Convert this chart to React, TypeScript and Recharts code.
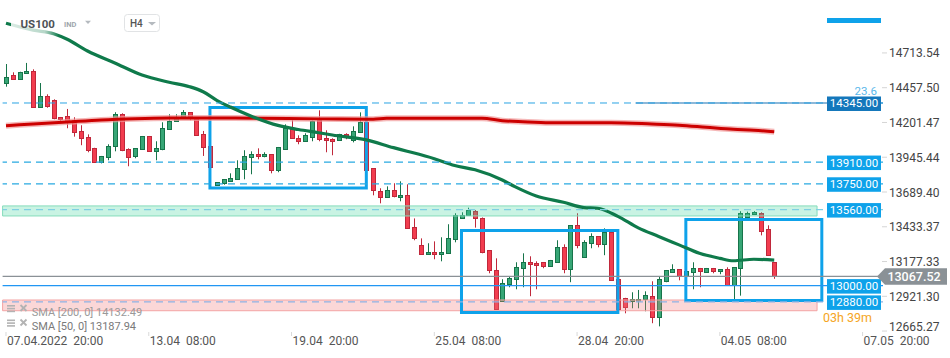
import React from 'react';
import { ComposedChart, Bar, Line, XAxis, YAxis, ReferenceLine, ReferenceArea } from 'recharts';

// H4 candles, left to right
const opens = [
  14490, 14549, 14519, 14564, 14578, 14318, 14394, 14365, 14240, 14247,
  14218, 14137, 14092, 14011, 13908, 13945, 14026, 14262, 14004, 13953,
  14004, 14100, 13989, 14004, 14151, 14212, 14242, 14276, 14234, 14114,
  14030, 13744, 13753, 13773, 13783, 13857, 13945, 13967, 13953, 13967,
  13849, 14004, 14153, 14085, 14063, 14092, 14218, 14085, 14078, 14070,
  14114, 14070, 14129, 14203, 13864, 13695, 13650, 13702, 13650, 13665,
  13429, 13297, 13231, 13246, 13231, 13238, 13341, 13495, 13522, 13552,
  13500, 13260, 13113, 12889, 13010, 13047, 13128, 13172, 13165, 13172,
  13143, 13172, 13282, 13120, 13444, 13209, 13312, 13363, 13304, 13393,
  13047, 12906, 12884, 12892, 12899, 12921, 12767, 13032, 13098, 13120,
  13069, 13098, 13128, 13098, 13128, 13106, 13120, 13003, 13128, 13508,
  13525, 13533, 13415, 13172,
];
const highs = [
  14632, 14571, 14575, 14640, 14593, 14492, 14409, 14372, 14242, 14301,
  14240, 14181, 14114, 14015, 13955, 14041, 14277, 14269, 14011, 14011,
  14102, 14102, 14063, 14203, 14262, 14262, 14293, 14278, 14236, 14139,
  14032, 13763, 13785, 13827, 13923, 13997, 13989, 14011, 13982, 13969,
  14021, 14188, 14232, 14107, 14122, 14215, 14291, 14144, 14085, 14118,
  14122, 14173, 14276, 14210, 13866, 13717, 13731, 13754, 13768, 13746,
  13495, 13348, 13312, 13326, 13356, 13452, 13533, 13540, 13574, 13557,
  13502, 13262, 13201, 13047, 13069, 13172, 13238, 13216, 13179, 13174,
  13189, 13334, 13304, 13446, 13533, 13334, 13385, 13365, 13422, 13400,
  13049, 12910, 12951, 12968, 12958, 13032, 13069, 13115, 13157, 13122,
  13108, 13172, 13130, 13130, 13130, 13122, 13135, 13137, 13548, 13545,
  13548, 13540, 13444, 13174,
];
const lows = [
  14465, 14515, 14515, 14560, 14310, 14310, 14310, 14225, 14207, 14159,
  14097, 14034, 13982, 13906, 13900, 13923, 13989, 13990, 13879, 13938,
  14002, 13987, 13923, 13997, 14149, 14210, 14240, 14218, 14105, 13955,
  13874, 13740, 13743, 13770, 13781, 13783, 13820, 13930, 13945, 13827,
  13835, 14002, 14083, 14041, 14061, 14063, 14063, 13982, 13960, 14066,
  14078, 14055, 14127, 13845, 13665, 13606, 13648, 13650, 13621, 13420,
  13334, 13229, 13229, 13194, 13179, 13236, 13319, 13493, 13520, 13427,
  13238, 13091, 12824, 12885, 12988, 12973, 12988, 12922, 12973, 13128,
  13141, 13170, 13091, 13025, 13275, 13207, 13275, 13282, 13224, 13037,
  12812, 12796, 12833, 12833, 12811, 12723, 12700, 13025, 13096, 13039,
  13067, 12973, 12988, 13096, 13091, 13084, 13001, 12899, 12926, 13505,
  13520, 13370, 13221, 13050,
];
const closes = [
  14534, 14519, 14571, 14578, 14318, 14394, 14325, 14232, 14225, 14207,
  14129, 14085, 13997, 13908, 13953, 14026, 14262, 13997, 13945, 14011,
  14100, 13989, 14011, 14161, 14212, 14242, 14276, 14242, 14107, 14019,
  13876, 13761, 13783, 13790, 13864, 13953, 13967, 13953, 13967, 13849,
  14019, 14161, 14085, 14063, 14107, 14210, 14078, 14070, 14063, 14114,
  14100, 14137, 14203, 13852, 13702, 13650, 13702, 13658, 13665, 13422,
  13348, 13231, 13246, 13231, 13246, 13348, 13518, 13518, 13557, 13500,
  13245, 13113, 12826, 13017, 13054, 13135, 13172, 13157, 13150, 13143,
  13187, 13282, 13120, 13444, 13297, 13319, 13363, 13304, 13393, 13039,
  12826, 12845, 12899, 12899, 12929, 12767, 13047, 13113, 13120, 13069,
  13106, 13128, 13106, 13128, 13106, 13120, 13003, 13135, 13533, 13533,
  13540, 13405, 13223, 13067.52,
];

// moving averages, read at some candles [index, value]
const sma50Points: Array<[number, number]> = [
  [0, 14932], [4, 14882], [7, 14855], [9, 14814], [12, 14728], [16, 14640],
  [20, 14551], [24, 14498], [27, 14465], [29, 14428], [31, 14365], [33, 14315],
  [36, 14250], [40, 14180], [43, 14150], [46, 14126], [48, 14109], [53, 14073],
  [57, 14016], [59, 13990], [63, 13935], [66, 13885], [69, 13853], [73, 13778],
  [75, 13725], [78, 13660], [82, 13614], [85, 13575], [87, 13570], [90, 13510],
  [93, 13425], [96, 13362], [99, 13300], [102, 13238], [105, 13201], [107, 13183],
  [110, 13194], [113, 13188],
];
const sma200Points: Array<[number, number]> = [
  [0, 14178], [4, 14190], [9, 14205], [14, 14220], [19, 14229], [24, 14234],
  [29, 14235], [37, 14232], [46, 14228], [54, 14225], [56, 14232], [70, 14232],
  [73, 14215], [76, 14207], [80, 14200], [89, 14200], [95, 14190], [99, 14181],
  [103, 14166], [107, 14151], [110, 14144], [113, 14132.5],
];

const timeTicks = [0, 21, 42, 63, 84, 105, 126];
const timeLabels: Array<[string, string]> = [
  ['07.04.2022', '20:00'], ['13.04', '08:00'], ['19.04', '20:00'], ['25.04', '08:00'],
  ['28.04', '20:00'], ['04.05', '08:00'], ['07.05', '20:00'],
];
const priceTicks = [14713.54, 14457.5, 14201.47, 13945.44, 13689.4, 13433.37, 13177.33, 12921.3, 12665.27];

const fibLevel = 14345;
const levels = [13910, 13750, 13560, 13000];
const bottomLevel = 12880;
const lastPrice = 13067.52;
const greenBand = [13513, 13587];
const redBand = [12815, 12894];
const bandEnd = 119.3;
const fibStart = 92.6;
const boxes = [
  { from: 30, to: 53, top: 14312, bottom: 13719 },
  { from: 67, to: 90, top: 13406, bottom: 12802 },
  { from: 100, to: 120, top: 13487, bottom: 12891 },
];

const GREEN = '#37a676';
const GREEN_DARK = '#17744a';
const RED = '#f23d4f';
const RED_DARK = '#c0283b';
const BLUE = '#0ea2ea';

const s50 = new Map(sma50Points);
const s200 = new Map(sma200Points);
const data = opens.map((o, i) => ({
  i,
  open: o,
  high: highs[i],
  low: lows[i],
  close: closes[i],
  range: [lows[i], highs[i]],
  sma50: s50.has(i) ? s50.get(i) : null,
  sma200: s200.has(i) ? s200.get(i) : null,
}));

const Candle = (props: any) => {
  const { x, y, width, height, payload } = props;
  if (!payload || x == null || y == null) return null;
  const top = Math.min(y, y + height);
  const h = Math.abs(height);
  const { open, close, high, low } = payload;
  const k = h / (high - low);
  const py = (v: number) => top + (high - v) * k;
  const up = close >= open;
  const cx = Math.round(x + width / 2) + 0.5;
  const b1 = Math.round(py(Math.max(open, close))) + 0.5;
  const b2 = Math.max(Math.round(py(Math.min(open, close))) + 0.5, b1 + 1.5);
  const stroke = up ? GREEN_DARK : RED_DARK;
  return (
    <g>
      <line x1={cx} x2={cx} y1={top} y2={top + h} stroke={stroke} strokeWidth={1} />
      <rect x={cx - 2} y={b1} width={4} height={b2 - b1} fill={up ? GREEN : RED} stroke={stroke} strokeWidth={1} />
    </g>
  );
};

const TimeTick = (props: any) => {
  const { x, payload } = props;
  const idx = timeTicks.indexOf(payload.value);
  const [d, t] = timeLabels[idx] || ['', ''];
  return (
    <g>
      <line x1={x} x2={x} y1={332} y2={336} stroke="#d9d9d9" />
      <text x={x + 1} y={344.5} fontSize={12} fill="#555">
        <tspan>{d}</tspan>
        <tspan dx={6}>{t}</tspan>
      </text>
    </g>
  );
};

const PriceTick = (props: any) => {
  const { x, y, payload } = props;
  const ty = Math.min(y, 326.5);
  return (
    <g>
      <line x1={x - 9} x2={x - 4} y1={y} y2={y} stroke="#d5d5d5" />
      <text x={x - 2} y={ty + 4.5} fontSize={12} fill="#444">{Number(payload.value).toFixed(2)}</text>
    </g>
  );
};

const LevelTag = (props: any) => {
  const { viewBox, value, color } = props;
  if (!viewBox) return null;
  const right = viewBox.x + viewBox.width;
  const y = viewBox.y;
  return (
    <g>
      <rect x={right - 56} y={y - 6.5} width={54} height={14.5} fill={color} />
      <text x={right - 29} y={y + 4.5} textAnchor="middle" fontSize={11.5} fill="#fff">{value.toFixed(2)}</text>
    </g>
  );
};

const LastTag = (props: any) => {
  const { viewBox } = props;
  if (!viewBox) return null;
  const right = viewBox.x + viewBox.width;
  const y = viewBox.y;
  return (
    <g>
      <text x={right - 60} y={y + 46} fontSize={12.5} fill="#f5a524">03h 39m</text>
      <polygon
        points={`${right - 6},${y} ${right + 2},${y - 8.3} ${right + 64},${y - 8.3} ${right + 64},${y + 8.3} ${right + 2},${y + 8.3}`}
        fill="#8a9196"
      />
      <text x={right + 31} y={y + 4.5} textAnchor="middle" fontSize={12.5} fontWeight={500} fill="#fff">
        {lastPrice.toFixed(2)}
      </text>
    </g>
  );
};

function Overlay() {
  return (
    <svg width={950} height={358} style={{ position: 'absolute', left: 0, top: 0, pointerEvents: 'none' }}>
      <defs>
        <linearGradient id="hdrFade" x1="0" x2="1" y1="0" y2="0">
          <stop offset="0" stopColor="#fff" stopOpacity={0.85} />
          <stop offset="0.7" stopColor="#fff" stopOpacity={0.7} />
          <stop offset="1" stopColor="#fff" stopOpacity={0} />
        </linearGradient>
      </defs>
      <rect x={11} y={12} width={48} height={26} fill="url(#hdrFade)" />
      <text x={20.5} y={27.5} fontSize={11.5} fontWeight={700} fill="#4d5257">US100</text>
      <text x={64} y={26.7} fontSize={7.5} fontWeight={700} fill="#a0a6ac">IND</text>
      <polygon points="85,20.7 91,20.7 88,24" fill="#b5babf" />
      <rect x={124.5} y={14.5} width={35} height={17} rx={3} fill="#fff" stroke="#e1e3e5" />
      <text x={130} y={26.7} fontSize={10} fontWeight={500} fill="#555">H4</text>
      <polygon points="148,22 156,22 152,25.5" fill="#b5babf" />
      <rect x={827} y={18} width={54} height={5} fill={BLUE} />
      <text x={877} y={94.5} textAnchor="end" fontSize={11.5} fill="#5bb8ea">23.6</text>
      <g fill="#b3b3b3">
        <rect x={7} y={305} width={8} height={1.6} />
        <rect x={7} y={307.8} width={8} height={1.6} />
        <rect x={7} y={310.6} width={8} height={1.6} />
        <rect x={7} y={319.5} width={8} height={1.6} />
        <rect x={7} y={322.3} width={8} height={1.6} />
        <rect x={7} y={325.1} width={8} height={1.6} />
      </g>
      <g stroke="#b3b3b3" strokeWidth={1.8}>
        <line x1={20.5} y1={305} x2={26.5} y2={311} />
        <line x1={26.5} y1={305} x2={20.5} y2={311} />
        <line x1={20.5} y1={319.5} x2={26.5} y2={325.5} />
        <line x1={26.5} y1={319.5} x2={20.5} y2={325.5} />
      </g>
      <text x={31.7} y={315.5} fontSize={11} fill="#9a9a9a">SMA [200, 0] 14132.49</text>
      <text x={31.7} y={329.5} fontSize={11} fill="#7a7a7a">SMA [50, 0] 13187.94</text>
    </svg>
  );
}

export default function App() {
  return (
    <div style={{ position: 'fixed', left: 0, top: 0, width: 950, height: 358, background: '#fff', fontFamily: 'Roboto, sans-serif' }}>
      <ComposedChart
        width={950}
        height={358}
        data={data}
        margin={{ top: 0, right: 0, bottom: 0, left: 2.6 }}
        barCategoryGap={0}
        barGap={0}
      >
        <XAxis
          dataKey="i"
          type="number"
          domain={[-0.5, 129]}
          allowDataOverflow
          ticks={timeTicks}
          interval={0}
          tick={<TimeTick />}
          axisLine={false}
          tickLine={false}
          height={25}
        />
        <YAxis
          orientation="right"
          type="number"
          domain={[12651, 15103.5]}
          allowDataOverflow
          ticks={priceTicks}
          interval={0}
          tick={<PriceTick />}
          axisLine={false}
          tickLine={false}
          width={67}
        />
        <Bar dataKey="range" shape={<Candle />} isAnimationActive={false} zIndex={300} />
        <ReferenceArea x1={-0.5} x2={bandEnd} y1={greenBand[0]} y2={greenBand[1]} fill="#3cd39a" fillOpacity={0.28} stroke="#86dcbb" strokeWidth={1} ifOverflow="visible" zIndex={350} />
        <ReferenceArea x1={-0.5} x2={bandEnd} y1={redBand[0]} y2={redBand[1]} fill="#f27a7a" fillOpacity={0.3} stroke="#f3a3a3" strokeWidth={1} ifOverflow="visible" zIndex={350} />
        {boxes.map((b, k) => (
          <ReferenceArea key={k} x1={b.from} x2={b.to} y1={b.bottom} y2={b.top} fill="none" fillOpacity={0} stroke={BLUE} strokeWidth={3} ifOverflow="visible" zIndex={360} />
        ))}
        <Line dataKey="sma200" type="monotone" connectNulls dot={false} stroke="#f19a9a" strokeOpacity={0.7} strokeWidth={6} isAnimationActive={false} zIndex={400} />
        <Line dataKey="sma200" type="monotone" connectNulls dot={false} stroke="#cc0000" strokeWidth={3} isAnimationActive={false} zIndex={400} />
        <Line dataKey="sma50" type="monotone" connectNulls dot={false} stroke="#0f7a4b" strokeWidth={3.2} isAnimationActive={false} zIndex={400} />
        <ReferenceLine segment={[{ x: fibStart, y: fibLevel }, { x: 129, y: fibLevel }]} stroke="#1c73b4" strokeWidth={1.2} zIndex={450} />
        <ReferenceLine y={fibLevel} stroke="#2aa3e3" strokeDasharray="7 5" zIndex={450} label={<LevelTag value={fibLevel} color="#1477bb" />} />
        {levels.map((v) => (
          <ReferenceLine
            key={v}
            y={v}
            stroke={v === 13000 ? '#2196f3' : v === 13560 ? '#7fcfe2' : '#29a9e1'}
            strokeDasharray={v === 13000 ? undefined : '7 5'}
            strokeWidth={v === 13000 ? 1.3 : 1.2}
            zIndex={450}
            label={<LevelTag value={v} color={BLUE} />}
          />
        ))}
        <ReferenceLine y={lastPrice} stroke="#8a9196" strokeWidth={1.2} zIndex={450} label={<LastTag />} />
        <ReferenceLine y={bottomLevel} stroke="#8fb2e3" strokeDasharray="7 5" strokeWidth={1.2} zIndex={460} label={<LevelTag value={bottomLevel} color={BLUE} />} />
      </ComposedChart>
      <Overlay />
    </div>
  );
}
